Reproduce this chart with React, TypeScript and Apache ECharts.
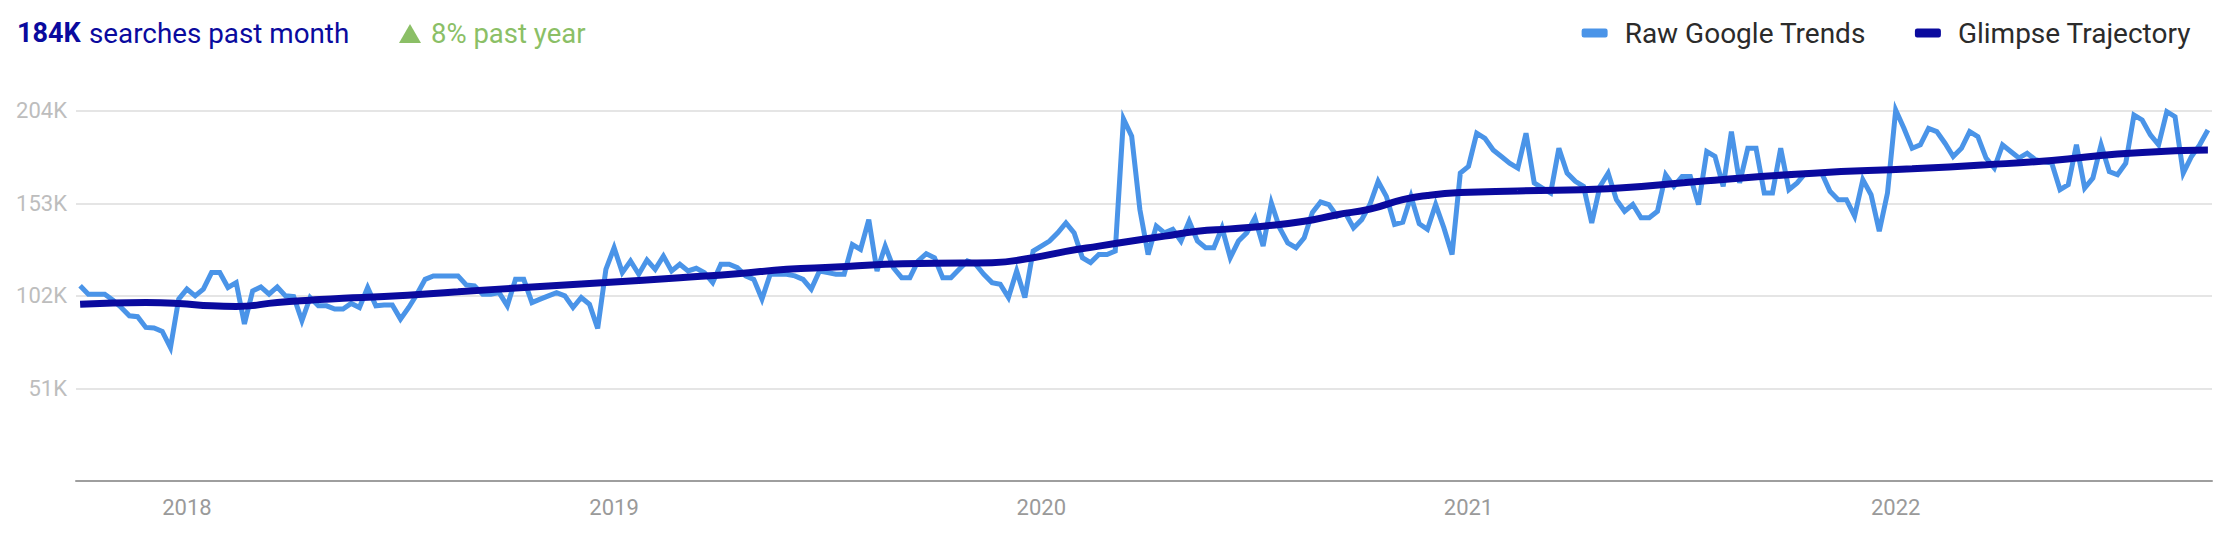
import React, { useEffect, useRef } from 'react';
import * as echarts from 'echarts';

const START_DATE = '2017-10-01';

// Weekly raw Google Trends search volume (thousands)
const RAW_K = [
  107.5, 102.9, 102.9, 102.9, 99.6, 95.6, 91.0, 90.5, 84.6, 84.3,
  82.4, 73.5, 100.2, 105.7, 102.0, 105.7, 114.8, 114.8, 106.6, 109.3,
  86.5, 104.7, 106.9, 102.9, 106.9, 102.0, 101.6, 88.3, 101.1, 96.5,
  96.5, 94.7, 94.7, 97.8, 95.6, 106.6, 96.5, 97.0, 97.0, 89.2,
  95.6, 102.9, 111.1, 113.0, 113.0, 113.0, 113.0, 108.0, 107.5, 102.9,
  102.9, 103.8, 96.5, 111.1, 111.1, 98.3, 100.2, 102.0, 103.8, 102.0,
  95.6, 101.1, 97.4, 84.0, 116.6, 128.5, 114.8, 121.2, 113.9, 121.7,
  116.6, 123.9, 115.7, 119.4, 115.7, 117.2, 114.8, 109.3, 119.4, 119.4,
  117.5, 113.0, 111.1, 100.2, 113.9, 113.9, 113.9, 113.0, 111.1, 105.7,
  115.7, 114.8, 113.9, 113.9, 130.3, 127.6, 144.0, 115.7, 129.4, 117.5,
  112.0, 112.0, 121.2, 125.2, 123.0, 112.0, 112.0, 116.6, 121.2, 119.4,
  113.9, 109.3, 108.4, 101.1, 115.7, 101.1, 126.7, 129.4, 132.2, 136.7,
  142.2, 136.7, 123.0, 120.3, 124.8, 124.8, 126.7, 199.5, 190.0, 149.5,
  124.8, 140.4, 136.7, 138.6, 132.2, 143.1, 132.2, 128.5, 128.5, 139.5,
  123.0, 132.2, 136.7, 144.9, 129.4, 153.2, 139.5, 131.2, 128.5, 134.0,
  148.0, 153.7, 152.3, 145.9, 147.7, 139.5, 144.0, 152.3, 165.1, 156.8,
  141.3, 142.6, 156.8, 141.7, 138.6, 152.3, 139.5, 124.8, 169.6, 173.3,
  191.6, 188.8, 182.4, 178.8, 175.1, 172.4, 191.6, 164.2, 161.4, 158.7,
  183.3, 169.6, 165.1, 162.3, 142.2, 162.3, 169.6, 155.0, 148.6, 152.3,
  145.0, 145.0, 148.6, 168.7, 162.3, 167.8, 167.8, 152.3, 181.5, 178.8,
  162.3, 192.5, 164.2, 183.3, 183.3, 158.7, 158.7, 183.3, 160.5, 164.2,
  169.6, 169.6, 169.6, 159.6, 155.0, 155.0, 145.9, 166.0, 157.7, 137.6,
  158.7, 204.4, 194.3, 183.3, 185.2, 194.3, 192.5, 186.1, 178.8, 183.3,
  192.5, 189.7, 177.9, 172.4, 185.2, 181.5, 177.9, 180.6, 177.0, 176.0,
  175.1, 160.5, 163.2, 185.2, 161.4, 166.9, 185.2, 170.5, 168.7, 175.1,
  201.6, 198.9, 190.7, 185.2, 203.5, 200.7, 169.6, 178.8, 185.2, 193.4,
];

// Glimpse trajectory samples: [week index, value in thousands]
const TRAJECTORY_K: [number, number][] = [
  [0, 97.4], [8, 98.3], [12, 97.8], [16, 96.5], [19, 96.2], [24, 98.3],
  [28, 99.6], [32, 100.7], [37, 101.6], [46, 104.2], [55, 106.9], [64, 109.3],
  [73, 112.0], [80, 114.2], [86, 116.6], [92, 117.9], [98, 119.4], [104, 120.0],
  [111, 120.3], [116, 123.0], [120, 126.5], [124, 129.4], [128, 132.2], [132, 134.9],
  [136, 137.6], [140, 138.9], [144, 140.4], [149, 143.1], [153, 146.7], [157, 149.8],
  [161, 155.0], [164, 157.3], [168, 158.9], [175, 159.8], [186, 161.0], [198, 165.4],
  [211, 169.6], [223, 172.0], [232, 174.2], [240, 176.6], [248, 180.1], [256, 182.1],
  [259, 182.4],
];

const Y_TICKS_K = [0, 51, 102, 153, 204];
const YEAR_LABELS = ['2018', '2019', '2020', '2021', '2022'];
const SERIES_NAMES = ['Raw Google Trends', 'Glimpse Trajectory'];
const HEAD_VALUE = '184K';
const HEAD_TEXT = 'searches past month';
const HEAD_CHANGE = '8% past year';

const NAVY = '#0A0A9E';
const LIGHT = '#4A94E8';
const GREEN = '#8BBF66';

function weekCategories(n: number): string[] {
  const out: string[] = [];
  const t0 = Date.parse(START_DATE + 'T00:00:00Z');
  for (let i = 0; i < n; i++) {
    out.push(new Date(t0 + i * 7 * 864e5).toISOString().slice(0, 10));
  }
  return out;
}

export default function App() {
  const ref = useRef<HTMLDivElement>(null);
  useEffect(() => {
    if (!ref.current) return;
    const chart = echarts.init(ref.current, undefined, { renderer: 'svg' });
    const cats = weekCategories(RAW_K.length);
    const yearAt: Record<number, string> = {};
    cats.forEach((c, i) => {
      const d = new Date(c + 'T00:00:00Z');
      const e = new Date(d.getTime() + 6 * 864e5);
      const y = String(e.getUTCFullYear());
      if ((e.getUTCFullYear() !== d.getUTCFullYear() || (d.getUTCMonth() === 0 && d.getUTCDate() === 1)) && YEAR_LABELS.includes(y)) {
        yearAt[i] = y;
      }
    });
    chart.setOption({
      animation: false,
      backgroundColor: '#fff',
      textStyle: { fontFamily: 'Roboto' },
      grid: { left: 76, right: 16, top: 110.7, bottom: 65, containLabel: false },
      legend: {
        right: 37,
        top: 19,
        padding: 0,
        itemWidth: 26,
        itemHeight: 9,
        itemGap: 49,
        icon: 'roundRect',
        textStyle: { fontSize: 28, color: '#2b2b2b', fontFamily: 'Roboto', padding: [0, 0, 0, 12] },
        data: SERIES_NAMES,
      },
      graphic: [
        { type: 'text', left: 17, top: 19.5, style: { text: HEAD_VALUE, fontSize: 27, fontWeight: 'bold', fontFamily: 'Roboto', fill: NAVY } },
        { type: 'text', left: 89, top: 19, style: { text: HEAD_TEXT, fontSize: 27.8, fontFamily: 'Roboto', fill: NAVY } },
        { type: 'polygon', shape: { points: [[399, 43], [421, 43], [410, 24]] }, style: { fill: GREEN } },
        { type: 'text', left: 431, top: 19, style: { text: HEAD_CHANGE, fontSize: 27.5, fontFamily: 'Roboto', fill: GREEN } },
      ],
      xAxis: {
        type: 'category',
        data: cats,
        boundaryGap: true,
        axisLine: { lineStyle: { color: '#9e9e9e', width: 2 } },
        axisTick: { show: false },
        axisLabel: {
          interval: (idx: number) => yearAt[idx] !== undefined,
          formatter: (_v: string, idx: number) => yearAt[idx] || '',
          color: '#9a9a9a',
          fontSize: 22,
          margin: 15,
          fontFamily: 'Roboto',
        },
        splitLine: { show: false },
      },
      yAxis: {
        type: 'value',
        min: Y_TICKS_K[0],
        max: Y_TICKS_K[Y_TICKS_K.length - 1],
        interval: Y_TICKS_K[1] - Y_TICKS_K[0],
        axisLine: { show: false },
        axisTick: { show: false },
        axisLabel: {
          formatter: (v: number) => (v === 0 ? '' : v + 'K'),
          color: '#bdbdbd',
          fontSize: 22,
          margin: 9,
          fontFamily: 'Roboto',
        },
        splitLine: { lineStyle: { color: '#dcdcdc', width: 1.5 } },
      },
      series: [
        {
          name: SERIES_NAMES[0],
          type: 'line',
          data: RAW_K,
          symbol: 'none',
          clip: false,
          color: LIGHT,
          lineStyle: { color: LIGHT, width: 5, join: 'miter' },
          z: 2,
        },
        {
          name: SERIES_NAMES[1],
          type: 'line',
          data: TRAJECTORY_K,
          symbol: 'none',
          smooth: 0.5,
          clip: false,
          color: NAVY,
          lineStyle: { color: NAVY, width: 7 },
          z: 3,
        },
      ],
    });
    return () => chart.dispose();
  }, []);
  return <div ref={ref} style={{ position: 'fixed', left: 0, top: 0, width: 2228, height: 546 }} />;
}
